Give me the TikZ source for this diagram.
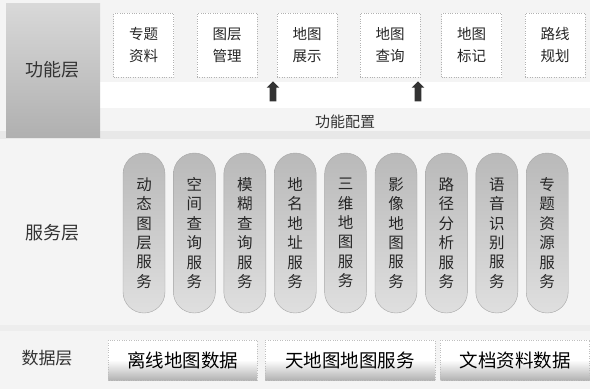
\documentclass[tikz,border=0pt]{standalone}
\usepackage{fontspec}
\setmainfont{Noto Sans CJK SC}
\usetikzlibrary{shapes.arrows}
\begin{document}
\begin{tikzpicture}[x=1pt,y=-1pt,
  funcbox/.style={draw=gray!60,dotted,fill=white,minimum width=60pt,minimum height=64pt,align=center,font=\fontsize{14.5}{22}\selectfont,text=black!85},
  pill/.style={draw=gray!70,rounded corners=21pt,minimum width=42pt,minimum height=160pt,
    top color=gray!55,bottom color=gray!25,align=center,inner sep=0pt,
    font=\fontsize{15.5}{19.4}\selectfont,text=black!85},
  databox/.style={draw=gray!50,dotted,minimum height=40pt,top color=white,bottom color=gray!60,
    middle color=white,font=\fontsize{18.5}{20}\selectfont,text=black},
  layerlabel/.style={font=\fontsize{18}{20}\selectfont,text=black!80},
  uparrow/.style={single arrow,draw=none,fill=gray!40!black,minimum height=20pt,
    inner sep=3.2pt,single arrow head extend=3pt,shape border rotate=90}
]
\useasboundingbox (0,0) rectangle (590,389);
\fill[gray!9] (0,0) rectangle (590,389);
\fill[white] (100,82) rectangle (590,108);
\fill[gray!18] (0,131) rectangle (590,139);
\fill[gray!14] (0,325) rectangle (590,331);
% layer labels
\node[layerlabel,minimum width=94pt,minimum height=134pt,top color=gray!30,bottom color=gray!62,inner sep=0pt] (gnc) at (53,70) {功能层};
\node[layerlabel] (fwc) at (52,233) {服务层};
\node[layerlabel,font=\fontsize{17}{20}\selectfont] (sjc) at (47,358) {数据层};
% function boxes
\node[funcbox] (f1) at (143.5,45) {专题\\资料};
\node[funcbox] (f2) at (227,45) {图层\\管理};
\node[funcbox] (f3) at (307,45) {地图\\展示};
\node[funcbox] (f4) at (390,45) {地图\\查询};
\node[funcbox] (f5) at (471.5,45) {地图\\标记};
\node[funcbox] (f6) at (555,45) {路线\\规划};
% arrows and config
\node[uparrow] (a1) at (273,93) {};
\node[uparrow] (a2) at (418,93) {};
\node[font=\fontsize{15}{18}\selectfont,text=black!80] (pz) at (345,122) {功能配置};
% service pills
\foreach \i/\t in {0/动\\态\\图\\层\\服\\务,1/空\\间\\查\\询\\服\\务,2/模\\糊\\查\\询\\服\\务,
  3/地\\名\\地\\址\\服\\务,4/三\\维\\地\\图\\服\\务,5/影\\像\\地\\图\\服\\务,
  6/路\\径\\分\\析\\服\\务,7/语\\音\\识\\别\\服\\务,8/专\\题\\资\\源\\服\\务}
  \node[pill] (s\i) at ({144+50.4*\i},233) {\t};
% data boxes
\node[databox,minimum width=149pt] (d1) at (182.5,360) {离线地图数据};
\node[databox,minimum width=170pt] (d2) at (350,360) {天地图地图服务};
\node[databox,minimum width=149pt] (d3) at (515,360) {文档资料数据};
\end{tikzpicture}
\end{document}
